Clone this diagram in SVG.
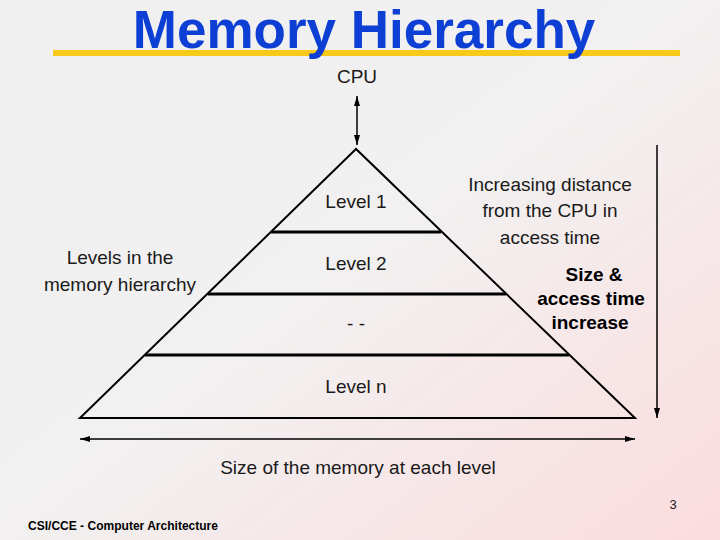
<svg xmlns="http://www.w3.org/2000/svg" width="720" height="540" viewBox="0 0 720 540">
<defs>
<linearGradient id="bg" x1="0" y1="0" x2="1" y2="1">
<stop offset="0" stop-color="#f0f0f0"/>
<stop offset="0.5" stop-color="#f2f0f0"/>
<stop offset="1" stop-color="#fcdcde"/>
</linearGradient>
<marker id="ah" viewBox="0 0 10 6" refX="10" refY="3" markerWidth="10" markerHeight="6" markerUnits="userSpaceOnUse" orient="auto-start-reverse">
<path d="M0,0 L10,3 L0,6 Z" fill="#000"/>
</marker>
<style>
.t{font-family:"Liberation Sans",Arial,sans-serif;font-size:19px;fill:#1a1a1a;text-anchor:middle}
.b{font-family:"Liberation Sans",Arial,sans-serif;font-size:19px;font-weight:bold;fill:#000;text-anchor:middle}
.edge{stroke:#000;stroke-width:2;fill:none}
.band{stroke:#000;stroke-width:3}
.conn{stroke:#000;stroke-width:1.5;fill:none}
</style>
</defs>
<rect width="720" height="540" fill="url(#bg)"/>
<rect x="53" y="50" width="627" height="6" fill="#f7c918"/>
<text x="364" y="48" font-family="Liberation Sans,Arial,sans-serif" font-size="53" font-weight="bold" fill="#0d3fd4" text-anchor="middle">Memory Hierarchy</text>

<g id="cpu"><text class="t" x="357" y="83">CPU</text></g>

<g id="pyramid">
<path class="edge" d="M356,149 L80,418 L635,418 Z"/>
<line class="band" x1="271" y1="232" x2="441" y2="232"/>
<line class="band" x1="208" y1="294" x2="506" y2="294"/>
<line class="band" x1="145" y1="355" x2="569" y2="355"/>
</g>
<g id="level1"><text class="t" x="356" y="208">Level 1</text></g>
<g id="level2"><text class="t" x="356" y="270">Level 2</text></g>
<g id="levelmid"><text class="t" x="356" y="330">- -</text></g>
<g id="leveln"><text class="t" x="356" y="393">Level n</text></g>

<g id="levels-label"><text class="t" x="120" y="264">Levels in the</text><text class="t" x="120" y="291">memory hierarchy</text></g>
<g id="distance-label"><text class="t" x="550" y="191">Increasing distance</text><text class="t" x="550" y="217">from the CPU in</text><text class="t" x="550" y="244">access time</text></g>
<g id="size-label"><text class="b" x="594" y="281">Size &amp;</text><text class="b" x="591" y="305">access time</text><text class="b" x="590" y="329">increase</text></g>
<g id="size-axis-label"><text class="t" x="358" y="474">Size of the memory at each level</text></g>

<g id="connectors">
<line class="conn" x1="357" y1="96" x2="357" y2="145" marker-start="url(#ah)" marker-end="url(#ah)"/>
<line class="conn" x1="657" y1="145" x2="657" y2="418" marker-end="url(#ah)"/>
<line class="conn" x1="80" y1="439" x2="635" y2="439" marker-start="url(#ah)" marker-end="url(#ah)"/>
</g>

<text x="673" y="509" font-family="Liberation Sans,Arial,sans-serif" font-size="13" fill="#222" text-anchor="middle">3</text>
<text x="28" y="530" font-family="Liberation Sans,Arial,sans-serif" font-size="13" font-weight="bold" fill="#000" textLength="190" lengthAdjust="spacingAndGlyphs">CSI/CCE - Computer Architecture</text>
</svg>
